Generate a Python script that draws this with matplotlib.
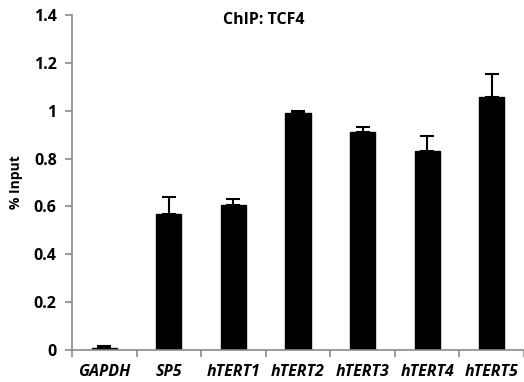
import numpy as np
import matplotlib.pyplot as plt

plt.rcParams['font.family'] = ['Open Sans', 'DejaVu Sans']

labels = ['GAPDH', 'SP5', 'hTERT1', 'hTERT2', 'hTERT3', 'hTERT4', 'hTERT5']
values = [0.008, 0.57, 0.605, 0.99, 0.91, 0.83, 1.058]
errors = [0.007, 0.07, 0.025, 0.009, 0.024, 0.063, 0.095]

fig = plt.figure(figsize=(5.24, 3.82), dpi=100)
ax = fig.add_axes([72 / 524, 32 / 382, 452 / 524, 335 / 382])

x = np.arange(len(labels))
ax.bar(x, values, width=0.39, color='black', edgecolor='black', zorder=2)
ax.errorbar(x, values, yerr=[np.zeros(len(errors)), errors], fmt='none',
            ecolor='black', elinewidth=1.5, capsize=5, capthick=1.5, zorder=3)

ax.set_xlim(-0.5, 6.45)
ax.set_ylim(0, 1.4)
ax.set_yticks([0, 0.2, 0.4, 0.6, 0.8, 1.0, 1.2, 1.4])
ax.set_yticklabels(['0', '0.2', '0.4', '0.6', '0.8', '1', '1.2', '1.4'],
                   fontsize=11.5, fontweight='bold')
ax.set_xticks(x)
ax.set_xticklabels(labels, fontsize=11.5, fontweight='bold', style='italic')
ax.set_xticks(np.arange(-0.5, 6.6, 1), minor=True)

for s in ['top', 'right']:
    ax.spines[s].set_visible(False)
for s in ['left', 'bottom']:
    ax.spines[s].set_color('#8a8a8a')
    ax.spines[s].set_linewidth(1.2)

ax.tick_params(axis='y', color='#8a8a8a', length=5, width=1.2, pad=6)
ax.tick_params(axis='x', which='major', length=0, pad=10)
ax.tick_params(axis='x', which='minor', color='#8a8a8a', length=5, width=1.2)

ax.set_ylabel('% Input', fontsize=10, fontweight='bold', labelpad=8)
fig.text(264 / 524, 1 - 20 / 382, 'ChIP: TCF4', ha='center', va='center',
         fontsize=11.5, fontweight='bold')

plt.savefig('out.png', dpi=100)
plt.close()
